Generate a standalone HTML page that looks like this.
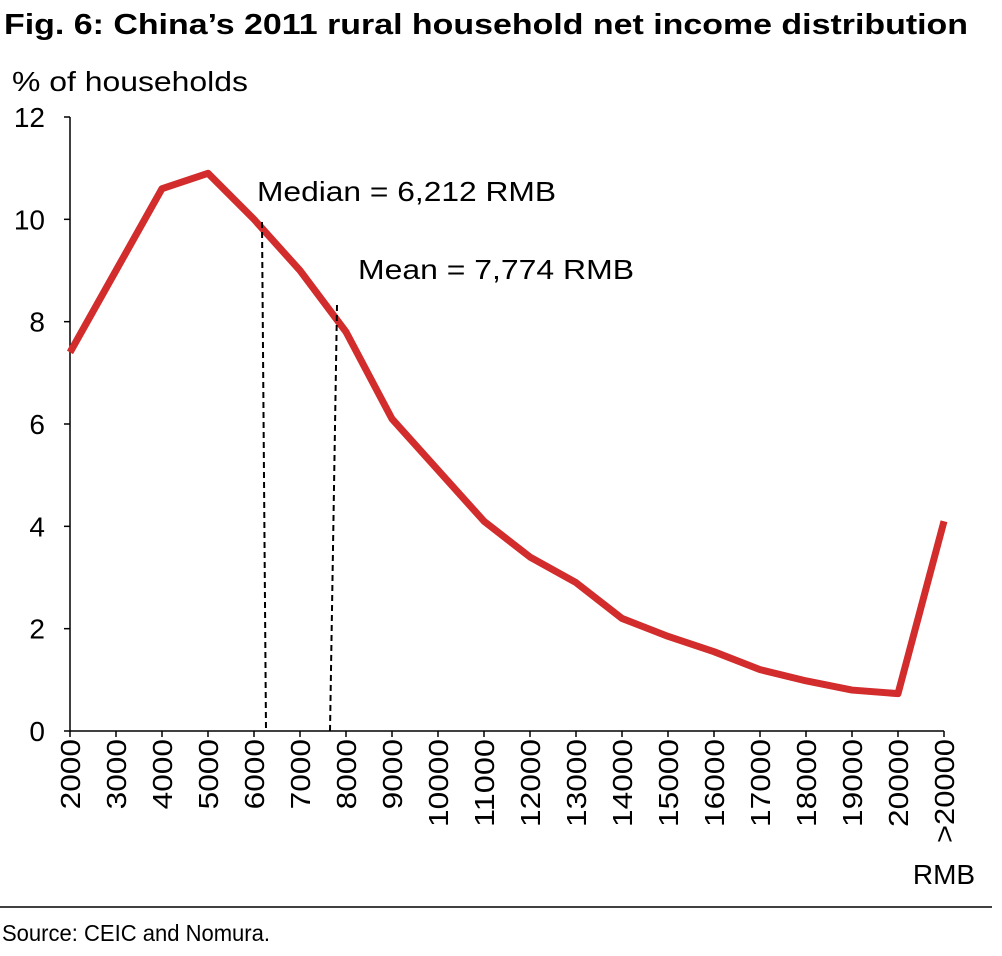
<!DOCTYPE html>
<html><head><meta charset="utf-8"><style>
body{margin:0;background:#fff;}
svg text{font-family:"Liberation Sans",Arial,sans-serif;fill:#000;}
</style></head><body>
<svg width="1002" height="951" viewBox="0 0 1002 951">
<text x="4" y="34" font-size="29" font-weight="bold" textLength="964" lengthAdjust="spacingAndGlyphs">Fig. 6: China’s 2011 rural household net income distribution</text>
<text x="12" y="91" font-size="28" textLength="236" lengthAdjust="spacingAndGlyphs">% of households</text>
<g id="axes"></g>
<g id="series"></g>
<line x1="262" y1="222" x2="266" y2="731" stroke="#000" stroke-width="2" stroke-dasharray="6,4"/>
<line x1="337" y1="305" x2="330" y2="731" stroke="#000" stroke-width="2" stroke-dasharray="6,4"/>
<text x="257" y="201" font-size="28" textLength="299" lengthAdjust="spacingAndGlyphs">Median = 6,212 RMB</text>
<text x="358" y="279" font-size="28" textLength="276" lengthAdjust="spacingAndGlyphs">Mean = 7,774 RMB</text>
<line x1="0" y1="907" x2="992" y2="907" stroke="#000" stroke-width="1.5"/>
<text x="2" y="941" font-size="23" textLength="268" lengthAdjust="spacingAndGlyphs">Source: CEIC and Nomura.</text>
</svg>
<script>
const categories=["2000","3000","4000","5000","6000","7000","8000","9000","10000","11000","12000","13000","14000","15000","16000","17000","18000","19000","20000",">20000"];
const values=[7.4,9.0,10.6,10.9,10.0,9.0,7.8,6.1,5.1,4.1,3.4,2.9,2.2,1.85,1.55,1.2,0.98,0.8,0.73,4.1];
const yTicks=[0,2,4,6,8,10,12];
const NS="http://www.w3.org/2000/svg";
const x0=70,x1=944,yb=731,yt=117,ymax=12;
function xs(i){return x0+i*(x1-x0)/(categories.length-1);}
function ys(v){return yb-v/ymax*(yb-yt);}
function mk(t,a,p){const e=document.createElementNS(NS,t);for(const k in a)e.setAttribute(k,a[k]);p.appendChild(e);return e;}
const ax=document.getElementById('axes');
let l=mk('line',{x1:x0,y1:yt,x2:x0,y2:yb,stroke:'#000','stroke-width':1.5},ax);


l=mk('line',{x1:x0,y1:yb,x2:x1,y2:yb,stroke:'#000','stroke-width':1.5},ax);


yTicks.forEach(v=>{
 const y=ys(v);
 let t=mk('line',{x1:x0-6,y1:y,x2:x0,y2:y,stroke:'#000','stroke-width':1.5},ax);
 
 
 let tx=mk('text',{x:x0-25,y:y+10,'font-size':28,'text-anchor':'end'},ax);
 tx.textContent=v;
 
 
});
categories.forEach((c,i)=>{
 const x=xs(i);
 let t=mk('line',{x1:x,y1:yb,x2:x,y2:yb+6,stroke:'#000','stroke-width':1.5},ax);
 
 
 const len=c.replace('>','').length*17.6+(c.startsWith('>')?16:0);
 let tx=mk('text',{transform:`translate(${x+10},${yb+8}) rotate(-90)`,'font-size':28,'text-anchor':'end',textLength:len,lengthAdjust:'spacingAndGlyphs'},ax);
 tx.textContent=c;
 
 
});
let r=mk('text',{x:xs(categories.length-1),y:884,'font-size':28,'text-anchor':'middle'},ax);
r.textContent='RMB';


const pts=values.map((v,i)=>xs(i)+','+ys(v)).join(' ');
const pl=mk('polyline',{points:pts,fill:'none',stroke:'#d22c2c','stroke-width':7,'stroke-linejoin':'round'},document.getElementById('series'));


</script>
</body></html>
